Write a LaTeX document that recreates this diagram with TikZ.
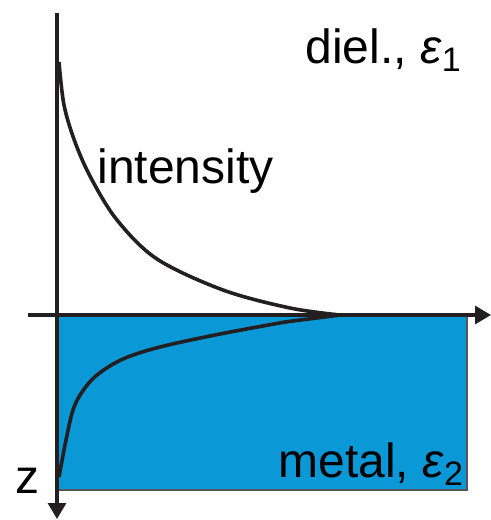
\documentclass[tikz,border=0pt]{standalone}
\usepackage{fontspec}
\setmainfont{Liberation Sans}
\usepackage{tikz}
\usetikzlibrary{arrows.meta}
\definecolor{metalblue}{HTML}{0A98D6}
\definecolor{axisgray}{HTML}{231F20}
\definecolor{edgegray}{HTML}{555555}
\newcommand{\epsub}[1]{\textit{ε}\raisebox{-4pt}{\fontsize{17}{17}\selectfont #1}}

\begin{document}
\begin{tikzpicture}[x=0.5pt, y=-0.5pt, font=\fontsize{24}{28}\selectfont,
        axis/.style={line width=1.6pt, axisgray, -{Triangle[length=8pt, width=9pt]}},
        profile/.style={line width=1.8pt, axisgray, line join=miter},
        label/.style={anchor=base west, inner sep=0pt}]
        \useasboundingbox (0,0) rectangle (491,520);
        % metal half space
        \fill[metalblue] (58,315) rectangle (467,490);
        \draw[edgegray, line width=0.8pt] (58,490) -- (467,490) -- (467,315);
        % axes
        \coordinate (xStart) at (28,315);
        \coordinate (xEnd) at (491,315);
        \coordinate (zTop) at (57,13);
        \coordinate (zEnd) at (57,519);
        \draw[axis] (xStart) -- (xEnd);
        \draw[axis] (zTop) -- (zEnd);
        % field intensity profile
        \draw[profile] plot[smooth, tension=0.55] coordinates {(59,62) (64,105) (75,142) (91,178) (117,220) (157,259) (223,290) (290,308) (340,315)}
            -- plot[smooth, tension=0.55] coordinates {(285,322) (220,334) (160,347) (123,359) (97,375) (82,392) (73,410) (66,440) (59,477)};
        % labels
        \node[label] (diel) at (305,63) {diel., \epsub{1}};
        \node[label] (intens) at (97,183) {intensity};
        \node[label] (metal) at (278,477) {metal, \epsub{2}};
        \node[label] (zlab) at (15,493) {z};
    \end{tikzpicture}
\end{document}
